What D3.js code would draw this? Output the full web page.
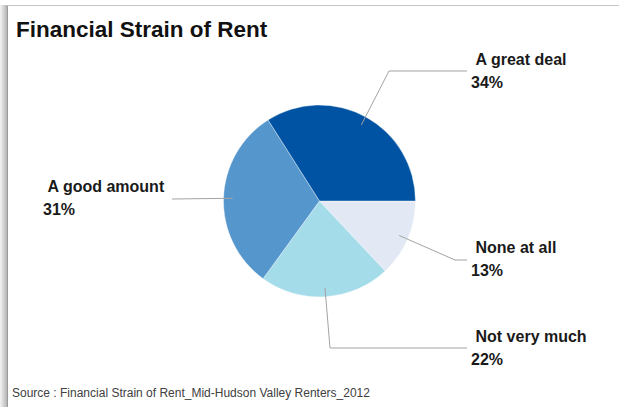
<!DOCTYPE html>
<html>
<head>
<meta charset="utf-8">
<script src="https://cdn.jsdelivr.net/npm/d3@7"></script>
<style>
  html, body { margin: 0; padding: 0; background: #fff; }
  svg { display: block; font-family: "Liberation Sans", Arial, sans-serif; }
</style>
</head>
<body>
<svg id="chart" width="619" height="407"></svg>
<script>
// Survey responses, in clockwise order starting from 3 o'clock
const categories = ["None at all", "Not very much", "A good amount", "A great deal"];
const percents = [13, 22, 31, 34];
const colors = ["#E2E9F4", "#A5DCEA", "#5596CD", "#0052A2"];

// Where each label block sits and where its leader line bends
const labelX = [471, 471, 43, 471];
const labelY = [253, 342, 192, 65];
const elbowPts = [[455, 260], [330, 348], [172, 199], [389, 71]];
const lineEndX = [467, 467, 172, 467];

const svg = d3.select("#chart");
const W = 619, H = 407;

// Card frame: shaded left edge and thin top rule
const defs = svg.append("defs");
const grad = defs.append("linearGradient").attr("id", "edgeShade")
  .attr("x1", "0").attr("x2", "1").attr("y1", "0").attr("y2", "0");
grad.append("stop").attr("offset", "0").attr("stop-color", "#f4f4f4");
grad.append("stop").attr("offset", "1").attr("stop-color", "#b4b4b4");
svg.append("rect").attr("x", 0).attr("y", 5).attr("width", 7).attr("height", H - 5)
  .attr("fill", "url(#edgeShade)");
svg.append("line").attr("x1", 7.5).attr("x2", 7.5).attr("y1", 5).attr("y2", H)
  .attr("stroke", "#9a9a9a").attr("stroke-width", 1);
svg.append("line").attr("x1", 7).attr("x2", W).attr("y1", 5.5).attr("y2", 5.5)
  .attr("stroke", "#c4c4c4").attr("stroke-width", 1.2);

// Title
svg.append("text").attr("x", 16).attr("y", 37)
  .attr("font-size", 22.5).attr("font-weight", "bold").attr("fill", "#111")
  .text("Financial Strain of Rent");

// Pie
const cx = 319.5, cy = 201, r = 96;
const pie = d3.pie().sort(null).value(d => d)
  .startAngle(Math.PI / 2).endAngle(Math.PI / 2 + 2 * Math.PI);
const arcs = pie(percents);
const arc = d3.arc().innerRadius(0).outerRadius(r);
const leaderArc = d3.arc().innerRadius(r * 0.905).outerRadius(r * 0.905);

const g = svg.append("g").attr("transform", `translate(${cx},${cy})`);
g.selectAll("path.slice").data(arcs).join("path")
  .attr("class", "slice")
  .attr("d", arc)
  .attr("fill", (d, i) => colors[i])
  .attr("stroke", "#ffffff").attr("stroke-width", 0.4);

// Leader lines from each slice to its label
arcs.forEach((d, i) => {
  const [sx, sy] = leaderArc.centroid(d);
  const start = [cx + sx, cy + sy];
  const pts = [start, elbowPts[i], [lineEndX[i], elbowPts[i][1]]];
  svg.append("path")
    .attr("d", d3.line()(pts))
    .attr("fill", "none").attr("stroke", "#a3a3a3").attr("stroke-width", 1);
});

// Labels: category name on the first line, share on the second
categories.forEach((c, i) => {
  const t = svg.append("text").attr("font-size", 16).attr("font-weight", "bold")
    .attr("fill", "#1a1a1a");
  t.append("tspan").attr("x", labelX[i] + 4.5).attr("y", labelY[i]).text(c);
  t.append("tspan").attr("x", labelX[i]).attr("y", labelY[i] + 23).text(percents[i] + "%");
});

// Source note
svg.append("text").attr("x", 12).attr("y", 397)
  .attr("font-size", 12).attr("fill", "#404040")
  .text("Source : Financial Strain of Rent_Mid-Hudson Valley Renters_2012");
</script>
</body>
</html>
